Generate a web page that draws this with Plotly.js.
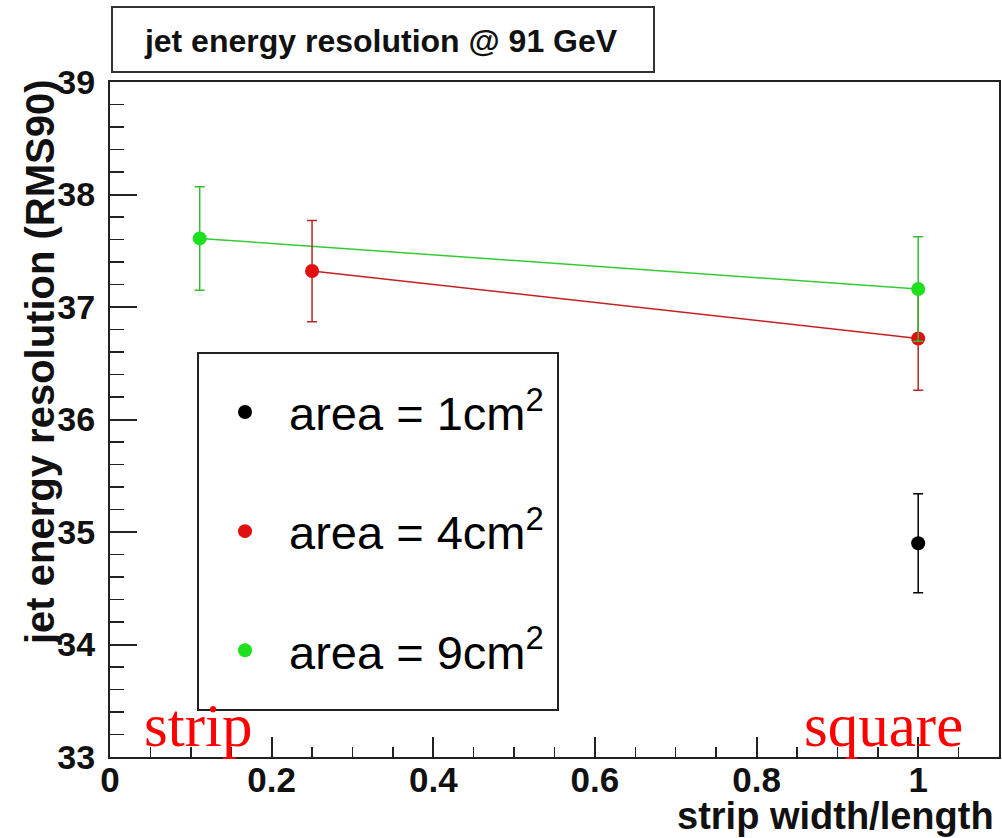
<!DOCTYPE html>
<html>
<head>
<meta charset="utf-8">
<script src="https://cdn.plot.ly/plotly-3.0.1.min.js"></script>
<style>
  html, body { margin: 0; padding: 0; background: #ffffff; }
  #chart { width: 1002px; height: 838px; }
</style>
</head>
<body>
<div id="chart"></div>
<script>
// Jet energy resolution (RMS90) at 91 GeV versus strip width/length ratio
// for three cell areas.

// area = 9 cm^2 : 1x9 strip and 3x3 square
const ratio9 = [0.111, 1.0];
const res9 = [37.61, 37.16];
const err9 = [0.46, 0.465];

// area = 4 cm^2 : 1x4 strip and 2x2 square
const ratio4 = [0.25, 1.0];
const res4 = [37.32, 36.72];
const err4 = [0.45, 0.46];

// area = 1 cm^2 : 1x1 square
const ratio1 = [1.0];
const res1 = [34.90];
const err1 = [0.44];

const legendNames = ['area = 1cm<sup>2</sup>', 'area = 4cm<sup>2</sup>', 'area = 9cm<sup>2</sup>'];
const xTickVals = [0, 0.2, 0.4, 0.6, 0.8, 1];
const xTickText = ['0', '0.2', '0.4', '0.6', '0.8', '1'];
const yTickVals = [33, 34, 35, 36, 37, 38, 39];

const SANS = 'Liberation Sans, Arial, Helvetica, sans-serif';
const SERIF = 'Liberation Serif, Times New Roman, serif';

const green = '#1fe01f', greenLine = '#33cc33', greenErr = '#33bb33';
const red = '#e01010', redLine = '#c82020', redErr = '#b02828';
const black = '#000000';

function lineTrace(x, y, color) {
  return {x: x, y: y, type: 'scatter', mode: 'lines', showlegend: false,
          hoverinfo: 'skip', line: {color: color, width: 1.5}};
}
function pointTrace(x, y, e, name, color, errColor, rank) {
  return {x: x, y: y, type: 'scatter', mode: 'markers', name: name,
          legendgroup: 'g' + rank, legendrank: rank,
          marker: {color: color, size: 14, symbol: 'circle'},
          error_y: {type: 'data', array: e, visible: true, color: errColor,
                    thickness: 1.5, width: 5}};
}

const data = [
  lineTrace(ratio9, res9, greenLine),
  lineTrace(ratio4, res4, redLine),
  pointTrace(ratio1, res1, err1, legendNames[0], black, black, 1),
  pointTrace(ratio4, res4, err4, legendNames[1], red, redErr, 2),
  pointTrace(ratio9, res9, err9, legendNames[2], green, greenErr, 3)
];

// plot area: x 110..999 px, y 82..757 px
const L = 110, R = 999, T = 82, B = 757;
const px = v => (v - L) / (R - L);
const py = v => (B - v) / (B - T);

const layout = {
  width: 1002, height: 838,
  margin: {l: L, r: 1002 - R, t: T, b: 838 - B, pad: 0},
  paper_bgcolor: '#ffffff', plot_bgcolor: '#ffffff',
  showlegend: true,
  title: {
    text: '<b>jet energy resolution @ 91 GeV</b>',
    font: {family: SANS, size: 32, color: '#111111'},
    xref: 'paper', yref: 'paper', x: px(381), y: py(41),
    xanchor: 'center', yanchor: 'middle'
  },
  xaxis: {
    range: [0, 1.1], showgrid: false, zeroline: false,
    showline: true, mirror: true, linecolor: '#222222', linewidth: 2,
    ticks: 'inside', ticklen: 20, tickwidth: 2, tickcolor: '#222222',
    tickvals: xTickVals, ticktext: xTickText, ticklabelstandoff: -9,
    tickfont: {family: SANS, size: 35, color: '#111111', weight: 'bold'},
    minor: {dtick: 0.05, tick0: 0, ticks: 'inside', ticklen: 10, tickwidth: 1.5, tickcolor: '#222222', showgrid: false}
  },
  yaxis: {
    range: [33, 39], showgrid: false, zeroline: false,
    showline: true, mirror: true, linecolor: '#222222', linewidth: 2,
    ticks: 'inside', ticklen: 27, tickwidth: 2, tickcolor: '#222222',
    tickvals: yTickVals, ticklabelstandoff: 6,
    tickfont: {family: SANS, size: 34, color: '#111111', weight: 'bold'},
    minor: {dtick: 0.2, tick0: 33, ticks: 'inside', ticklen: 14, tickwidth: 1.5, tickcolor: '#222222', showgrid: false}
  },
  legend: {
    x: px(201), y: py(375), xanchor: 'left', yanchor: 'top',
    bgcolor: 'rgba(0,0,0,0)', borderwidth: 0,
    font: {family: SANS, size: 47, color: '#000000'},
    tracegroupgap: 55, itemwidth: 78, itemclick: false
  },
  shapes: [
    // title frame
    {type: 'rect', xref: 'paper', yref: 'paper', x0: px(112), x1: px(654), y0: py(72), y1: py(7),
     line: {color: '#333333', width: 2}, fillcolor: 'rgba(0,0,0,0)'},
    // legend frame
    {type: 'rect', xref: 'paper', yref: 'paper', x0: px(198), x1: px(558), y0: py(710), y1: py(353),
     line: {color: '#222222', width: 2}, fillcolor: 'rgba(0,0,0,0)'}
  ],
  annotations: [
    {text: '<b>jet energy resolution (RMS90)</b>', xref: 'paper', yref: 'paper',
     x: px(40), y: py(362), xanchor: 'center', yanchor: 'middle', textangle: -90,
     showarrow: false, font: {family: SANS, size: 40, color: '#111111'}},
    {text: '<b>strip width/length</b>', xref: 'paper', yref: 'paper',
     x: px(996), y: py(816), xanchor: 'right', yanchor: 'middle',
     showarrow: false, font: {family: SANS, size: 38, color: '#111111'}},
    {text: 'strip', xref: 'paper', yref: 'paper', x: px(142), y: py(725),
     xanchor: 'left', yanchor: 'middle', showarrow: false,
     font: {family: SERIF, size: 61, color: '#ff0000'}},
    {text: 'square', xref: 'paper', yref: 'paper', x: px(802), y: py(725),
     xanchor: 'left', yanchor: 'middle', showarrow: false,
     font: {family: SERIF, size: 61, color: '#ff0000'}}
  ]
};

Plotly.newPlot('chart', data, layout, {displayModeBar: false, staticPlot: true});
</script>
</body>
</html>
